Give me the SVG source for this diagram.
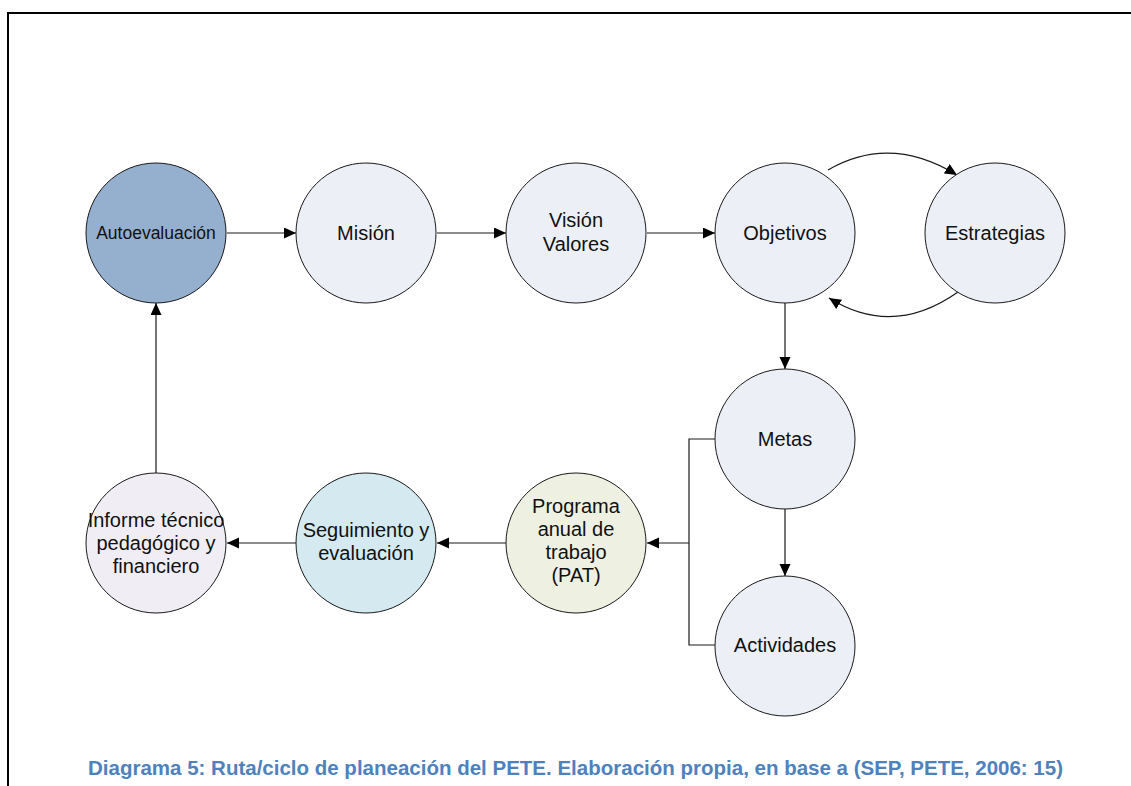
<svg xmlns="http://www.w3.org/2000/svg" width="1131" height="786" viewBox="0 0 1131 786">
  <style>
    .node { stroke: #1a1a1a; stroke-width: 1; }
    .lbl { font-family: "Liberation Sans", Arial, sans-serif; font-size: 20px; fill: #111; text-anchor: middle; }
    .conn { fill: none; stroke: #1a1a1a; stroke-width: 1.2; }
    .frame { stroke: #000; stroke-width: 2; fill: none; }
    .caption { font-family: "Liberation Sans", Arial, sans-serif; font-weight: bold; font-size: 21px; fill: #4f81bd; }
  </style>
  <defs>
    <marker id="arrow" markerUnits="userSpaceOnUse" markerWidth="14" markerHeight="12" refX="12" refY="5.5" orient="auto">
      <path d="M0,0 L12,5.5 L0,11 z" fill="#000"/>
    </marker>
  </defs>

  <rect width="1131" height="786" fill="#fff"/>

  <!-- page frame -->
  <path class="frame" d="M8,786 L8,13 L1131,13"/>

  <!-- connectors -->
  <g id="connectors">
    <line class="conn" x1="227" y1="233" x2="296" y2="233" marker-end="url(#arrow)"/>
    <line class="conn" x1="437" y1="233" x2="506" y2="233" marker-end="url(#arrow)"/>
    <line class="conn" x1="647" y1="233" x2="715" y2="233" marker-end="url(#arrow)"/>
    <path class="conn" d="M828,170 Q890,134 957,175" marker-end="url(#arrow)"/>
    <path class="conn" d="M958,292 Q893,338 829,298" marker-end="url(#arrow)"/>
    <line class="conn" x1="785" y1="303" x2="785" y2="369" marker-end="url(#arrow)"/>
    <line class="conn" x1="785" y1="508" x2="785" y2="576" marker-end="url(#arrow)"/>
    <path class="conn" d="M715,439 L689,439 L689,645 L715,645"/>
    <line class="conn" x1="689" y1="543" x2="647" y2="543" marker-end="url(#arrow)"/>
    <line class="conn" x1="506" y1="543" x2="437" y2="543" marker-end="url(#arrow)"/>
    <line class="conn" x1="296" y1="543" x2="227" y2="543" marker-end="url(#arrow)"/>
    <line class="conn" x1="156" y1="473" x2="156" y2="303" marker-end="url(#arrow)"/>
  </g>

  <g id="autoevaluacion">
    <circle class="node" cx="156" cy="233" r="70" fill="#95afcf"/>
    <text class="lbl" x="156" y="239" style="font-size:17.5px">Autoevaluación</text>
  </g>
  <g id="mision">
    <circle class="node" cx="366" cy="233" r="70" fill="#ecf0f6"/>
    <text class="lbl" x="366" y="240">Misión</text>
  </g>
  <g id="vision-valores">
    <circle class="node" cx="576" cy="233" r="70" fill="#ecf0f6"/>
    <text class="lbl" x="576" y="227">Visión</text>
    <text class="lbl" x="576" y="251">Valores</text>
  </g>
  <g id="objetivos">
    <circle class="node" cx="785" cy="233" r="70" fill="#ecf0f6"/>
    <text class="lbl" x="785" y="240">Objetivos</text>
  </g>
  <g id="estrategias">
    <circle class="node" cx="995" cy="233" r="70" fill="#ecf0f6"/>
    <text class="lbl" x="995" y="240">Estrategias</text>
  </g>
  <g id="metas">
    <circle class="node" cx="785" cy="439" r="70" fill="#ecf0f6"/>
    <text class="lbl" x="785" y="446">Metas</text>
  </g>
  <g id="actividades">
    <circle class="node" cx="785" cy="646" r="70" fill="#ecf0f6"/>
    <text class="lbl" x="785" y="652">Actividades</text>
  </g>
  <g id="pat">
    <circle class="node" cx="576" cy="543" r="70" fill="#eef1e1"/>
    <text class="lbl" x="576" y="513">Programa</text>
    <text class="lbl" x="576" y="536">anual de</text>
    <text class="lbl" x="576" y="559">trabajo</text>
    <text class="lbl" x="576" y="582">(PAT)</text>
  </g>
  <g id="seguimiento">
    <circle class="node" cx="366" cy="543" r="70" fill="#d4eaf0"/>
    <text class="lbl" x="366" y="537">Seguimiento y</text>
    <text class="lbl" x="366" y="560">evaluación</text>
  </g>
  <g id="informe">
    <circle class="node" cx="156" cy="543" r="70" fill="#f0eef4"/>
    <text class="lbl" x="156" y="527">Informe técnico</text>
    <text class="lbl" x="156" y="550">pedagógico y</text>
    <text class="lbl" x="156" y="573">financiero</text>
  </g>

  <text class="caption" x="88" y="775" textLength="975" lengthAdjust="spacingAndGlyphs">Diagrama 5: Ruta/ciclo de planeación del PETE. Elaboración propia, en base a (SEP, PETE, 2006: 15)</text>
</svg>
